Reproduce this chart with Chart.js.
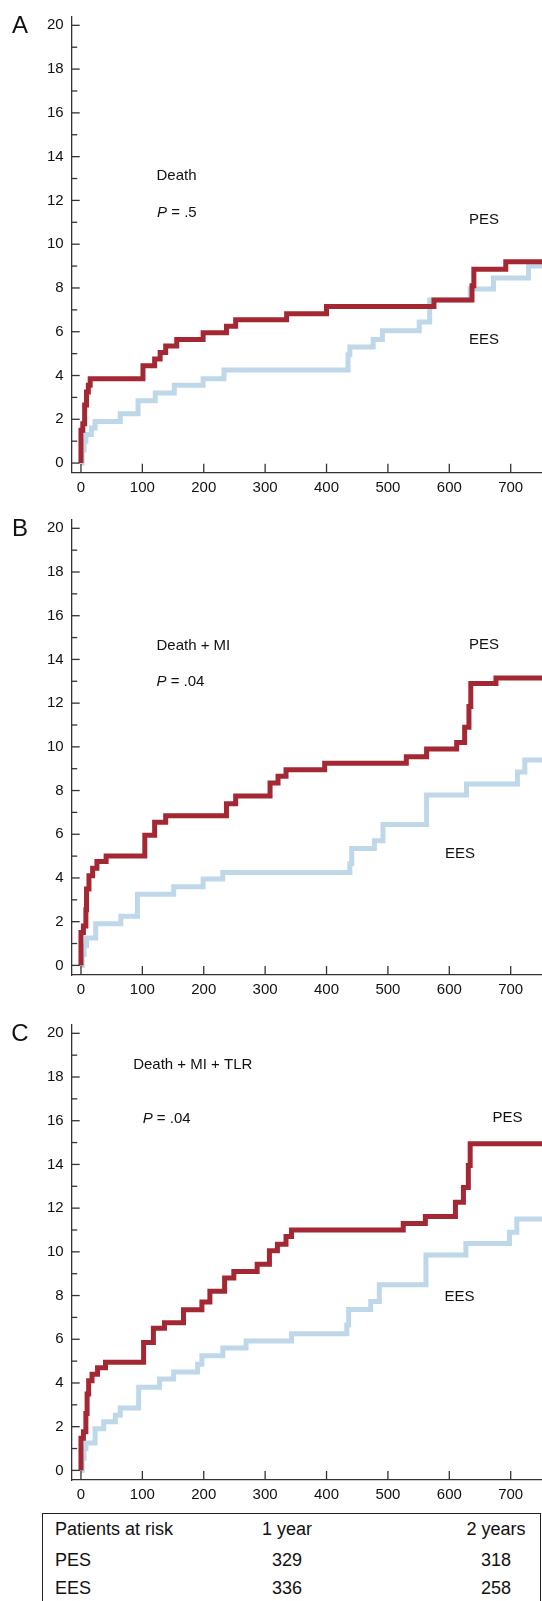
<!DOCTYPE html>
<html>
<head>
<meta charset="utf-8">
<script src="https://cdn.jsdelivr.net/npm/chart.js@4.4.0/dist/chart.umd.min.js"></script>
<style>
  body { margin:0; background:#fff; width:542px; height:1601px; overflow:hidden; position:relative;
         font-family:"Liberation Sans", Arial, sans-serif; color:#111; }
  .pannello { position:absolute; left:0; width:542px; height:500px; }
  #tabella { position:absolute; left:42px; top:1513px; width:499px; height:200px; box-sizing:border-box;
             border:1.5px solid #222; font-size:18px; }
  #tabella span { position:absolute; line-height:20px; white-space:nowrap; }
</style>
</head>
<body>

<div class="pannello" id="boxA" style="top:0px"><canvas id="chartA"></canvas></div>
<div class="pannello" id="boxB" style="top:503px"><canvas id="chartB"></canvas></div>
<div class="pannello" id="boxC" style="top:1008px"><canvas id="chartC"></canvas></div>
<div id="tabella"></div>

<script>

// DATI (giorni, % cumulativa)

// A - Death
const deathPesT = [0, 0, 3, 6, 9, 12, 15, 101, 120, 129, 138, 156, 199, 237, 252, 335, 400, 575, 637, 640, 692, 751];
const deathPesV = [0, 1.5, 1.8, 2.65, 3.25, 3.55, 3.85, 4.45, 4.75, 5.05, 5.35, 5.65, 5.95, 6.25, 6.55, 6.82, 7.15, 7.45, 8.1, 8.85, 9.2, 9.2];
const deathEesT = [0, 2, 5, 8, 17, 23, 64, 93, 121, 152, 199, 233, 435, 438, 476, 491, 551, 568, 634, 672, 729, 751];
const deathEesV = [0, 0.6, 1.0, 1.3, 1.6, 1.9, 2.25, 2.85, 3.2, 3.55, 3.85, 4.25, 4.95, 5.3, 5.65, 6.05, 6.45, 7.45, 7.95, 8.45, 9.0, 9.0];

// B - Death + MI
const miPesT = [0, 0, 4, 8, 9, 13, 19, 26, 41, 104, 120, 138, 237, 252, 308, 321, 334, 397, 530, 563, 612, 625, 632, 635, 676, 751];
const miPesV = [0, 1.5, 1.8, 2.55, 3.5, 4.1, 4.45, 4.75, 5.0, 5.95, 6.55, 6.85, 7.4, 7.75, 8.35, 8.65, 8.95, 9.25, 9.55, 9.9, 10.2, 10.9, 11.85, 12.9, 13.15, 13.15];
const miEesT = [0, 2, 5, 9, 24, 65, 92, 151, 199, 231, 438, 441, 478, 492, 563, 628, 711, 723, 751];
const miEesV = [0, 0.5, 0.9, 1.25, 1.9, 2.25, 3.25, 3.6, 3.95, 4.25, 4.65, 5.35, 5.7, 6.45, 7.8, 8.3, 8.85, 9.4, 9.4];

// C - Death + MI + TLR
const tlrPesT = [0, 0, 4, 8, 10, 12.5, 18, 27, 40, 102, 118, 136, 167, 197, 210, 234, 249, 287, 307, 320, 334, 343, 525, 561, 610, 623, 631, 634, 751];
const tlrPesV = [0, 1.47, 1.77, 2.6, 3.5, 4.1, 4.4, 4.7, 4.95, 5.85, 6.5, 6.75, 7.35, 7.7, 8.2, 8.8, 9.1, 9.43, 10.05, 10.35, 10.7, 11.0, 11.3, 11.62, 12.27, 12.95, 13.95, 14.95, 14.95];
const tlrEesT = [0, 2, 5, 8, 23, 37, 56, 64, 94, 128, 151, 190, 197, 231, 269, 343, 433, 436, 472, 486, 562, 627, 698, 710, 751];
const tlrEesV = [0, 0.55, 1.0, 1.25, 1.9, 2.22, 2.52, 2.85, 3.8, 4.18, 4.5, 4.86, 5.24, 5.6, 5.92, 6.25, 6.65, 7.36, 7.73, 8.5, 9.85, 10.38, 10.9, 11.5, 11.5];

// tick
const xTicks = [0, 100, 200, 300, 400, 500, 600, 700];
const yTicks = [0, 1, 2, 3, 4, 5, 6, 7, 8, 9, 10, 11, 12, 13, 14, 15, 16, 17, 18, 19, 20];

// tabella pazienti a rischio
const rischioHeader = ['Patients at risk', '1 year', '2 years'];
const rischioPES = ['PES', '329', '318'];
const rischioEES = ['EES', '336', '258'];


const FONT = '"Liberation Sans", Arial, sans-serif';
const ROSSO = '#a42833';
const AZZURRO = '#bed8ea';
const ALTEZZA_PLOT = 460;

// tacche verso l'interno + testi
const plugTacche = {
  id: 'tacche',
  afterDraw(chart) {
    const ctx = chart.ctx;
    const a = chart.chartArea;
    const xs = chart.scales.x, ys = chart.scales.y;
    ctx.save();
    ctx.strokeStyle = '#333';
    ctx.lineWidth = 1.3;
    xs.ticks.forEach(t => {
      const px = xs.getPixelForValue(t.value);
      ctx.beginPath();
      ctx.moveTo(px, a.bottom);
      ctx.lineTo(px, a.bottom - 9);
      ctx.stroke();
    });
    ys.ticks.forEach(t => {
      const py = ys.getPixelForValue(t.value);
      const len = t.value % 2 === 0 ? 8 : 5.5;
      ctx.beginPath();
      ctx.moveTo(a.left, py);
      ctx.lineTo(a.left + len, py);
      ctx.stroke();
    });

    const opz = chart.options.plugins.tacche;
    // lettera del pannello
    ctx.fillStyle = '#111';
    ctx.textAlign = 'center';
    ctx.textBaseline = 'middle';
    ctx.font = '24px ' + FONT;
    ctx.fillText(opz.lettera, 20, a.top + 9);

    // testi dentro il grafico
    ctx.textAlign = 'left';
    ctx.font = '15px ' + FONT;
    opz.testi.forEach(tx => {
      let px = xs.getPixelForValue(tx.x);
      const py = ys.getPixelForValue(tx.y);
      if (tx.corsivo) {
        ctx.font = 'italic 15px ' + FONT;
        ctx.fillText(tx.corsivo, px, py);
        px += ctx.measureText(tx.corsivo).width;
        ctx.font = '15px ' + FONT;
      }
      ctx.fillText(tx.testo, px, py);
    });
    ctx.restore();
  }
};

function punti(tt, vv) {
  return tt.map((t, i) => ({ x: t, y: vv[i] }));
}

function creaPannello(idCanvas, lettera, padTop, pesT, pesV, eesT, eesV, testi) {
  const ctx = document.getElementById(idCanvas).getContext('2d');
  return new Chart(ctx, {
    type: 'line',
    data: {
      datasets: [{
        label: 'PES',
        data: punti(pesT, pesV),
        borderColor: ROSSO,
        borderWidth: 5,
        stepped: 'before',
        pointRadius: 0,
        borderJoinStyle: 'miter',
        borderCapStyle: 'butt',
        fill: false
      }, {
        label: 'EES',
        data: punti(eesT, eesV),
        borderColor: AZZURRO,
        borderWidth: 5,
        stepped: 'before',
        pointRadius: 0,
        borderJoinStyle: 'miter',
        borderCapStyle: 'butt',
        fill: false
      }]
    },
    options: {
      responsive: true,
      maintainAspectRatio: false,
      animation: false,
      devicePixelRatio: 1,
      layout: { padding: { top: padTop, left: 0, right: 0, bottom: 0 } },
      plugins: {
        legend: { display: false },
        tooltip: { enabled: false },
        tacche: { lettera: lettera, testi: testi }
      },
      scales: {
        x: {
          type: 'linear',
          min: -15.1,
          max: 751,
          grid: { display: false, drawTicks: false },
          border: { display: true, color: '#333', width: 1.3 },
          afterBuildTicks: s => { s.ticks = xTicks.map(v => ({ value: v })); },
          afterFit: s => { s.height = 500 - padTop - ALTEZZA_PLOT; },
          ticks: {
            autoSkip: false, maxRotation: 0, padding: 6, color: '#111',
            font: { family: FONT, size: 15 },
            callback: v => String(v)
          }
        },
        y: {
          type: 'linear',
          min: -0.44,
          max: 20.38,
          grid: { display: false, drawTicks: false },
          border: { display: true, color: '#333', width: 1.3 },
          afterBuildTicks: s => { s.ticks = yTicks.map(v => ({ value: v })); },
          afterFit: s => { s.width = 71.7; },
          ticks: {
            autoSkip: false, padding: 8, color: '#111',
            font: { family: FONT, size: 15 },
            callback: v => (v % 2 === 0 ? String(v) : '')
          }
        }
      }
    },
    plugins: [plugTacche]
  });
}

creaPannello('chartA', 'A', 12.7, deathPesT, deathPesV, deathEesT, deathEesV, [
  { x: 123, y: 13.14, testo: 'Death' },
  { x: 124, y: 11.45, corsivo: 'P', testo: ' = .5' },
  { x: 632, y: 11.09, testo: 'PES' },
  { x: 632, y: 5.64, testo: 'EES' }
]);

creaPannello('chartB', 'B', 12, miPesT, miPesV, miEesT, miEesV, [
  { x: 123, y: 14.63, testo: 'Death + MI' },
  { x: 123, y: 12.98, corsivo: 'P', testo: ' = .04' },
  { x: 632, y: 14.66, testo: 'PES' },
  { x: 593, y: 5.11, testo: 'EES' }
]);

creaPannello('chartC', 'C', 12, tlrPesT, tlrPesV, tlrEesT, tlrEesV, [
  { x: 85, y: 18.54, testo: 'Death + MI + TLR' },
  { x: 100.5, y: 16.08, corsivo: 'P', testo: ' = .04' },
  { x: 670.5, y: 16.12, testo: 'PES' },
  { x: 592, y: 7.92, testo: 'EES' }
]);

// tabella
const tab = document.getElementById('tabella');
const righe = [rischioHeader, rischioPES, rischioEES];
const centriY = [15, 45.5, 73.5];
righe.forEach((r, i) => {
  const top = centriY[i] - 10;
  const s0 = document.createElement('span');
  s0.textContent = r[0];
  s0.style.left = '12px';
  s0.style.top = top + 'px';
  tab.appendChild(s0);
  [244, 453].forEach((cx, k) => {
    const s = document.createElement('span');
    s.textContent = r[k + 1];
    s.style.left = (cx - 60) + 'px';
    s.style.width = '120px';
    s.style.textAlign = 'center';
    s.style.top = top + 'px';
    tab.appendChild(s);
  });
});

</script>
</body>
</html>
